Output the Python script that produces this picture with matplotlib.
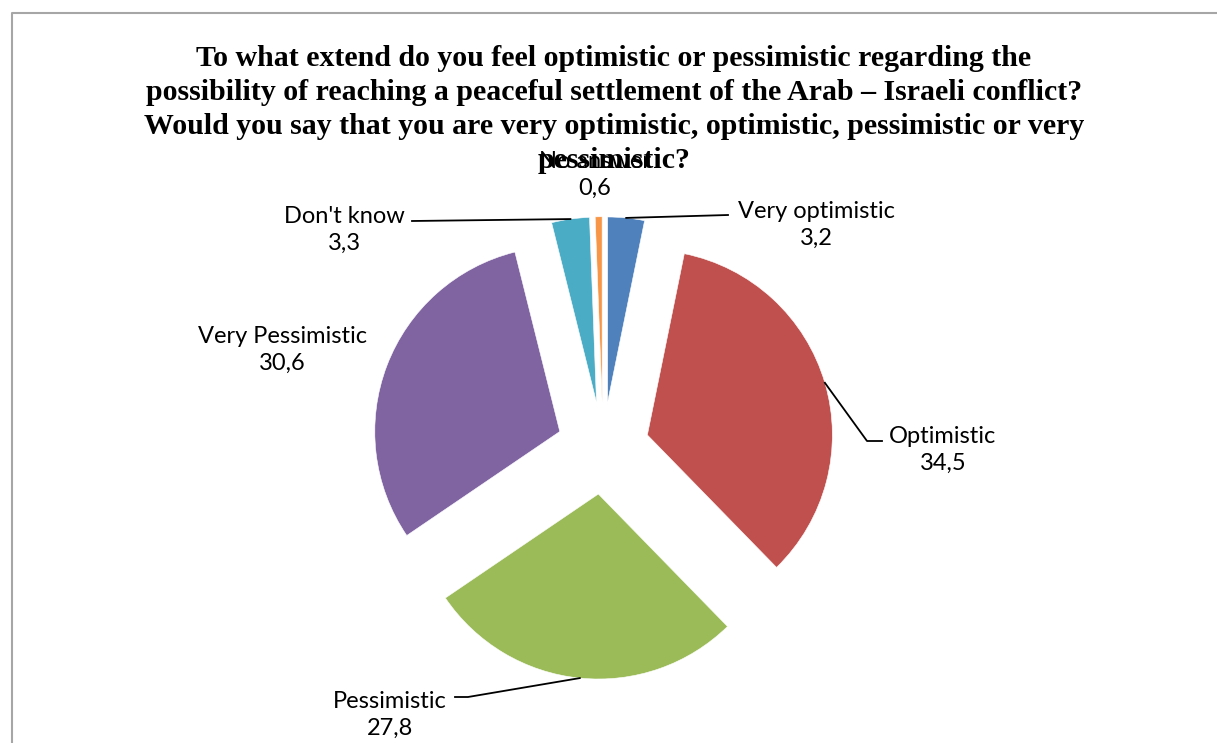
import numpy as np
import matplotlib.pyplot as plt

# Data
categories = ["Very optimistic", "Optimistic", "Pessimistic", "Very Pessimistic", "Don't know", "No answer"]
values = [3.2, 34.5, 27.8, 30.6, 3.3, 0.6]
colors = ["#4F81BD", "#C0504D", "#9BBB59", "#8064A2", "#4BACC6", "#F79646"]
title = ("To what extend do you feel optimistic or pessimistic regarding the\n"
         "possibility of reaching a peaceful settlement of the Arab \u2013 Israeli conflict?\n"
         "Would you say that you are very optimistic, optimistic, pessimistic or very\n"
         "pessimistic?")

W, H = 1217, 743
fig = plt.figure(figsize=(W / 100, H / 100), dpi=100)
ax = fig.add_axes([0, 0, 1, 1])

# chart frame (cut off at right and bottom)
ax.plot([11.5, 11.5, W + 5], [-5, H - 13, H - 13], color="#A6A6A6", lw=1.5)

cx, cy, r = 603, H - 448, 185
explode = 0.25  # fraction of radius
ax.pie(values, colors=colors, explode=[explode * r] * len(values), startangle=90,
       counterclock=False, radius=r, center=(cx, cy), frame=True,
       wedgeprops=dict(edgecolor="white", linewidth=0.4))
ax.set_xlim(0, W)
ax.set_ylim(0, H)
ax.set_aspect("equal")
ax.axis("off")

ax.text(614, H - 45, title, ha="center", va="top", fontsize=21.5, fontweight="bold",
        family="Liberation Serif", linespacing=1.34)

# label layout: text centre (pixels from top-left), leader elbow
labels_pos = {
    "Very optimistic": ((816, 225), [(728, 215)]),
    "Optimistic": ((943, 450), [(867, 441), (882, 441)]),
    "Pessimistic": ((390, 715), [(468, 697), (455, 697)]),
    "Very Pessimistic": ((282, 350), None),
    "Don't know": ((344, 230), [(412, 221)]),
    "No answer": ((595, 175), None),
}

cum = np.cumsum([0] + values)
total = sum(values)
for i, (cat, v) in enumerate(zip(categories, values)):
    mid = np.deg2rad(90 - 360 * (cum[i] + v / 2) / total)
    ax_x = cx + r * (1 + explode) * np.cos(mid)
    ax_y = cy + r * (1 + explode) * np.sin(mid)
    (tx, ty), elbow = labels_pos[cat]
    ax.text(tx, H - ty, f"{cat}\n{v:.1f}".replace(".", ","), ha="center", va="center",
            fontsize=17, family="Lato", linespacing=1.35)
    if elbow:
        xs = [ax_x] + [p[0] for p in elbow]
        ys = [ax_y] + [H - p[1] for p in elbow]
        ax.plot(xs, ys, color="black", lw=1.3)

fig.savefig("out.png", dpi=100)
